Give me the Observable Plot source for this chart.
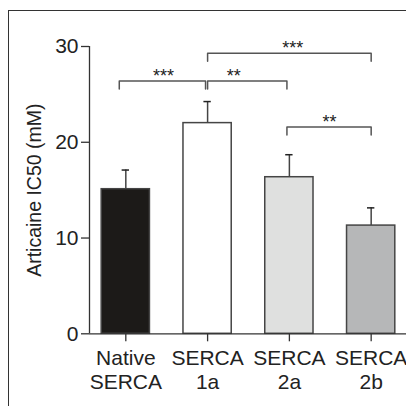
<!DOCTYPE html>
<html><head><meta charset="utf-8">
<script src="https://cdn.jsdelivr.net/npm/d3@7"></script>
<script src="https://cdn.jsdelivr.net/npm/@observablehq/plot@0.6"></script>
<style>
html,body{margin:0;padding:0;background:#fff;overflow:hidden}
#wrap{position:relative;width:406px;height:406px;}
#frame{position:absolute;left:8px;top:10px;width:430px;height:430px;border:1.5px solid #333;box-sizing:border-box;pointer-events:none;z-index:2}
#wrap svg{position:absolute;left:0;top:0}
</style></head><body><div id="wrap"><div id="frame"></div></div>
<script>
// ---- data ----
const categories = ["Native SERCA", "SERCA 1a", "SERCA 2a", "SERCA 2b"];
const tickLabels = ["Native\nSERCA", "SERCA\n1a", "SERCA\n2a", "SERCA\n2b"];
const means = [15.1, 22.0, 16.35, 11.3];
const errors = [2.0, 2.25, 2.35, 1.85];
const fills = ["#1c1a18", "#ffffff", "#dfe0df", "#b6b7b8"];
const yTicks = [0, 10, 20, 30];
// significance brackets (x in category-index units, level in mM)
const bracketX1 = [-0.08, 1.0, 1.0, 1.97];
const bracketX2 = [0.975, 1.97, 3.0, 3.0];
const bracketLevel = [26.4, 26.4, 29.3, 21.6];
const bracketDrop = [0.85, 0.85, 0.85, 0.85];
const starX = [0.46, 1.32, 2.04, 2.49];
const stars = ["***", "**", "***", "**"];

// ---- build tables ----
const bars = categories.map((c, i) => ({i, c, mean: means[i], err: errors[i], fill: fills[i]}));
const bracketPts = [];
bracketLevel.forEach((lv, k) => {
  bracketPts.push({id: k, x: bracketX1[k], y: lv - bracketDrop[k]});
  bracketPts.push({id: k, x: bracketX1[k], y: lv});
  bracketPts.push({id: k, x: bracketX2[k], y: lv});
  bracketPts.push({id: k, x: bracketX2[k], y: lv - bracketDrop[k]});
});
const starRows = stars.map((s, k) => ({x: starX[k], y: bracketLevel[k], s}));

const barHalf = 0.295, capHalf = 0.045;
const xDomain = [-0.444, 3.432];

const chart = Plot.plot({
  width: 406, height: 406,
  marginLeft: 89, marginRight: 0, marginTop: 46, marginBottom: 72.7,
  style: {fontFamily: "'Liberation Sans', Arial, sans-serif", fontSize: "20px", color: "#222", background: "transparent"},
  x: {type: "linear", domain: xDomain},
  y: {domain: [0, 30]},
  color: {type: "identity"},
  marks: [
    Plot.rectY(bars, {x1: d => d.i - barHalf, x2: d => d.i + barHalf, y1: 0, y2: "mean", fill: "fill", stroke: "#454545", strokeWidth: 1.5}),
    Plot.ruleX(bars, {x: "i", y1: "mean", y2: d => d.mean + d.err, stroke: "#444", strokeWidth: 1.5}),
    Plot.ruleY(bars, {y: d => d.mean + d.err, x1: d => d.i - capHalf, x2: d => d.i + capHalf, stroke: "#222", strokeWidth: 1.5}),
    Plot.line(bracketPts, {x: "x", y: "y", z: "id", stroke: "#555", strokeWidth: 1.5}),
    Plot.text(starRows, {x: "x", y: "y", text: "s", fontSize: 18, dy: -5, fill: "#222"}),
    Plot.ruleY([0], {stroke: "#333", strokeWidth: 1.3}),
    Plot.ruleX([xDomain[0]], {stroke: "#333", strokeWidth: 1.3}),
    Plot.axisY({ticks: yTicks, tickSize: 8, tickPadding: 3, stroke: "#333", strokeWidth: 1.3, fontSize: 21, label: null}),
    Plot.axisY({ticks: [], tickSize: 0, fontSize: 19.5,
      label: "Articaine IC50 (mM)", labelAnchor: "center", labelOffset: 62, labelArrow: "none"}),
    Plot.axisX({ticks: [0, 1, 2, 3], tickFormat: i => tickLabels[i], tickSize: 8, tickPadding: 6, fontSize: 21,
      lineHeight: 1.15, stroke: "#333", strokeWidth: 1.3, label: null})
  ]
});
document.getElementById("wrap").appendChild(chart);
</script>
</body></html>
